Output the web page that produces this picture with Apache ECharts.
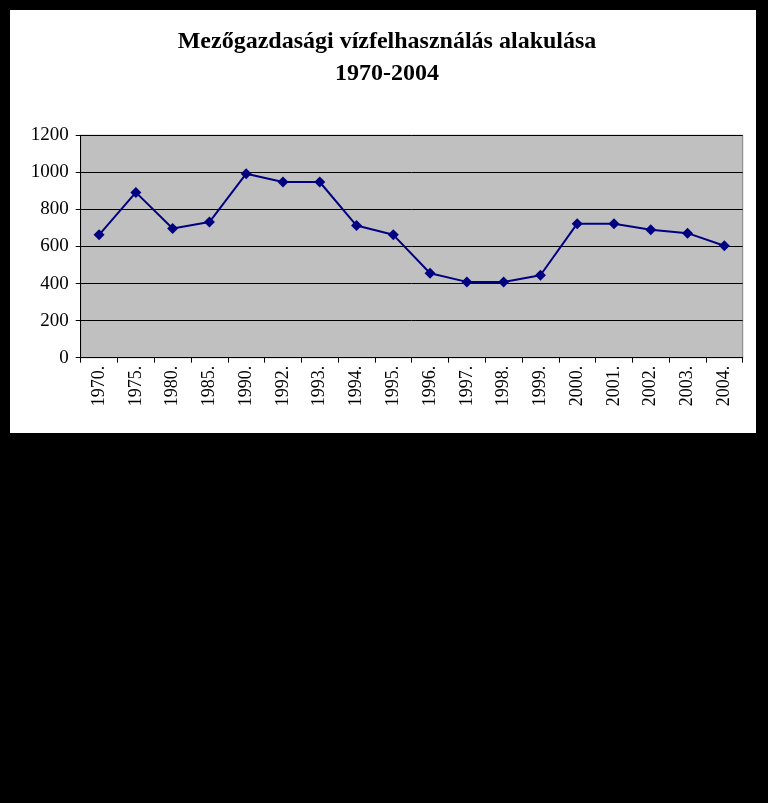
<!DOCTYPE html>
<html>
<head>
<meta charset="utf-8">
<script src="https://cdn.jsdelivr.net/npm/echarts@6/dist/echarts.min.js"></script>
<style>
html,body{margin:0;padding:0;background:#000;width:768px;height:803px;overflow:hidden;}
#box{position:absolute;left:10px;top:10px;width:746px;height:423px;background:#fff;}
#chart{width:746px;height:423px;}
</style>
</head>
<body>
<div id="box"><div id="chart"></div></div>
<script>
var titleLines = ['Mezőgazdasági vízfelhasználás alakulása', '1970-2004'];
var categories = ['1970.','1975.','1980.','1985.','1990.','1992.','1993.','1994.','1995.','1996.','1997.','1998.','1999.','2000.','2001.','2002.','2003.','2004.'];
var values = [663, 892, 697, 732, 993, 948, 948, 713, 663, 456, 409, 409, 445, 723, 723, 690, 672, 604];
var yTicks = {min: 0, max: 1200, interval: 200};

var chart = echarts.init(document.getElementById('chart'), null, {renderer: 'canvas'});
chart.setOption({
  animation: false,
  backgroundColor: '#fff',
  title: {
    text: titleLines.join('\n'),
    left: 372, top: 11, textAlign: 'center',
    textStyle: {fontFamily: 'Liberation Serif', fontWeight: 'bold', fontSize: 24, color: '#000', lineHeight: 32}
  },
  grid: {
    left: 70.7, top: 125.3, right: 13.3, bottom: 75.3,
    show: true, backgroundColor: '#c0c0c0', borderColor: '#808080', borderWidth: 1
  },
  xAxis: {
    type: 'category', data: categories, boundaryGap: true,
    axisLine: {show: true, lineStyle: {color: '#000', width: 1}},
    axisTick: {show: true, length: 5, lineStyle: {color: '#000'}},
    axisLabel: {rotate: 90, margin: 8, fontFamily: 'Liberation Serif', fontSize: 18, color: '#000', interval: 0}
  },
  yAxis: {
    type: 'value', min: yTicks.min, max: yTicks.max, interval: yTicks.interval,
    axisLine: {show: true, lineStyle: {color: '#000', width: 1}},
    axisTick: {show: true, length: 5, lineStyle: {color: '#000'}},
    axisLabel: {margin: 12, fontFamily: 'Liberation Serif', fontSize: 19, color: '#000', formatter: function (v) { return String(v); }},
    splitLine: {show: true, lineStyle: {color: '#000', width: 1}}
  },
  series: [{
    type: 'line', data: values,
    symbol: 'diamond', symbolSize: 11,
    lineStyle: {color: '#000080', width: 2},
    itemStyle: {color: '#000080'}
  }]
});
</script>
</body>
</html>
